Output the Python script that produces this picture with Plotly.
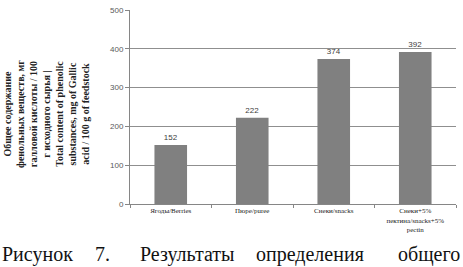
import plotly.graph_objects as go

categories = ["Ягоды/Berries", "Пюре/puree", "Снеки/snacks", "Снеки+5%<br>пектина/snacks+5%<br>pectin"]
values = [152, 222, 374, 392]
y_ticks = [0, 100, 200, 300, 400, 500]
y_title_lines = [
    "Общее содержание",
    "фенольных веществ, мг",
    "галловой кислоты / 100",
    "г исходного сырья |",
    "Total content of phenolic",
    "substances, mg of Gallic",
    "acid / 100 g of feedstock",
]
caption_words = ["Рисунок", "7.", "Результаты", "определения", "общего"]
caption_x_px = [0, 102, 187, 310, 462]
caption_anchor = ["left", "center", "center", "center", "right"]

W, H = 463, 267
L, R, T, B = 130, 7, 10, 63
pw = W - L - R
ph = H - T - B
SERIF = "Liberation Serif, DejaVu Serif, serif"

fig = go.Figure()
fig.add_trace(go.Bar(
    x=categories, y=values,
    marker=dict(color="#808080", line=dict(width=0)),
    text=[str(v) for v in values], textposition="outside",
    textfont=dict(family="Liberation Sans, Arial", size=8, color="#404040"),
    cliponaxis=False,
    width=0.4,
))

fig.update_layout(
    width=W, height=H,
    margin=dict(l=L, r=R, t=T, b=B, autoexpand=False),
    paper_bgcolor="white", plot_bgcolor="white",
    showlegend=False,
    xaxis=dict(
        type="category", automargin=False,
        showline=True, linecolor="#868686", linewidth=1,
        ticks="outside", tickson="boundaries", ticklen=3, tickcolor="#868686",
        tickfont=dict(family=SERIF, size=7, color="#222222"),
        showgrid=False,
    ),
    yaxis=dict(
        range=[0, 500], tickvals=y_ticks, automargin=False,
        showline=True, linecolor="#868686", linewidth=1,
        ticks="outside", ticklen=4, tickcolor="#868686",
        gridcolor="#8f8f8f", gridwidth=1,
        tickfont=dict(family="Liberation Sans, Arial", size=8, color="#595959"),
        zeroline=False,
    ),
)

fig.add_annotation(
    text="<b>" + "<br>".join(y_title_lines) + "</b>",
    textangle=-90,
    xref="paper", yref="paper",
    x=(46 - L) / pw, y=(T + ph - 114) / ph,
    xanchor="center", yanchor="middle",
    showarrow=False,
    font=dict(family=SERIF, size=10, color="#222222"),
)

for word, px, anc in zip(caption_words, caption_x_px, caption_anchor):
    fig.add_annotation(
        text=word,
        xref="paper", yref="paper",
        x=(px - L) / pw, y=(T + ph - 254) / ph,
        xanchor=anc, yanchor="middle",
        showarrow=False,
        font=dict(family=SERIF, size=20, color="#111111"),
    )

fig.write_html(
    "out.html",
    config={"displayModeBar": False},
    post_script="document.body.style.margin='0';document.body.style.overflow='hidden';",
)
